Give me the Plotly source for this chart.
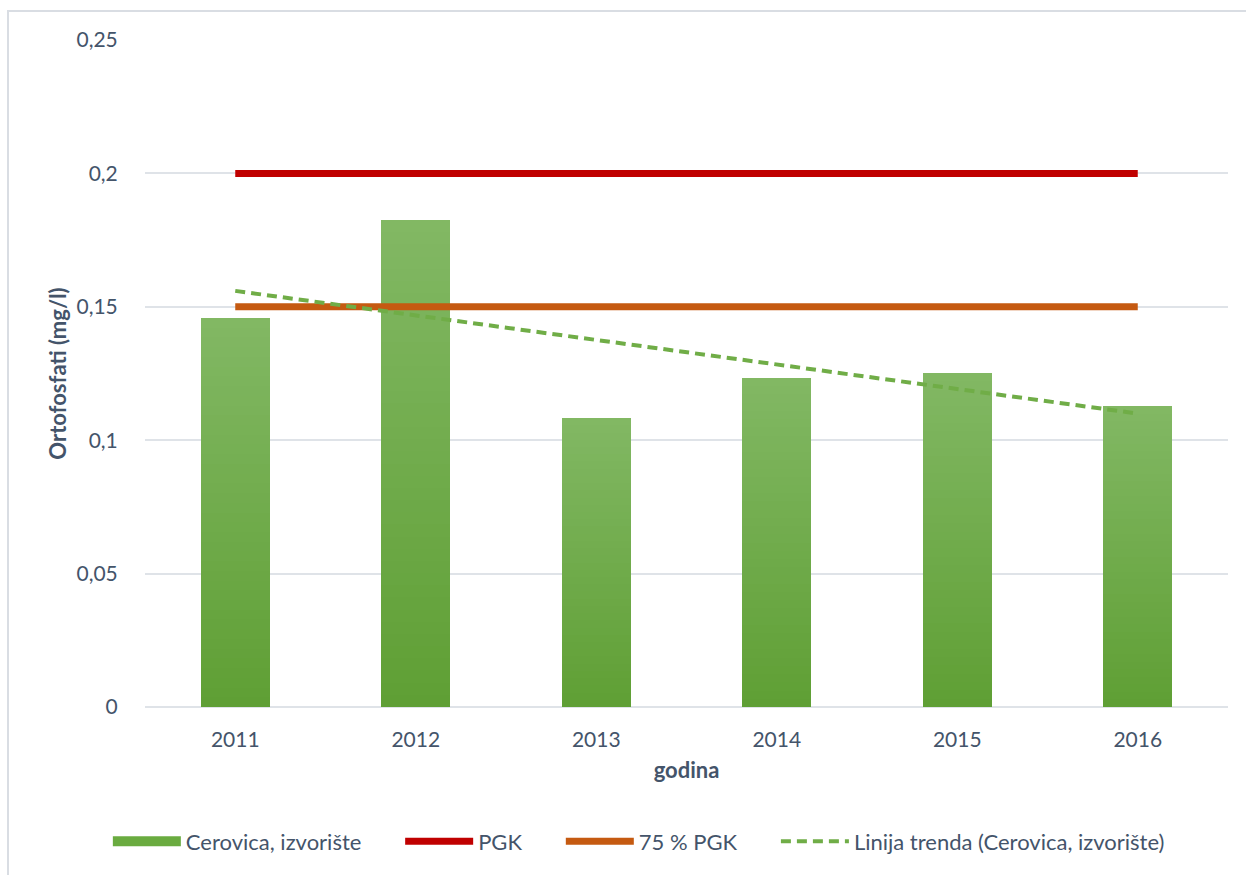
import numpy as np
import plotly.graph_objects as go

# Data
years = ["2011", "2012", "2013", "2014", "2015", "2016"]
cerovica = [0.1458, 0.1825, 0.1083, 0.1233, 0.1252, 0.1128]
pgk = [0.2] * len(years)
pgk75 = [0.15] * len(years)

series_name = "Cerovica, izvorište"
trend_name = "Linija trenda (Cerovica, izvorište)"

# Linear trend (least squares over category index)
idx = np.arange(1, len(years) + 1)
slope, intercept = np.polyfit(idx, cerovica, 1)
trend = slope * idx + intercept

FONT = "Lato"
TXT = "#44546a"
GRID = "#dfe3e8"
PAD = "\u00a0" * 6  # extra room between legend entries

# Vertical gradient of the bars, light at the top, dark at the bottom
TOP = np.array([0x82, 0xb8, 0x64])
BOT = np.array([0x5f, 0x9f, 0x34])
N_SEG = 40

fig = go.Figure()

# Legend entry for the bar series
fig.add_trace(go.Scatter(
    x=[None], y=[None], mode="lines", name=series_name + PAD,
    line=dict(color="#6aab40", width=14), legendgroup="bars",
))

vals = np.array(cerovica)
for k in range(N_SEG):
    t = (k + 0.5) / N_SEG  # 0 bottom .. 1 top
    c = BOT + (TOP - BOT) * t
    fig.add_trace(go.Bar(
        x=years, y=vals / N_SEG,
        marker=dict(color="rgb(%d,%d,%d)" % tuple(c.round().astype(int)), line=dict(width=0)),
        showlegend=False, legendgroup="bars", hoverinfo="skip",
    ))

fig.add_trace(go.Scatter(
    x=years, y=pgk, mode="lines", name="PGK" + PAD,
    line=dict(color="#c00000", width=7),
))
fig.add_trace(go.Scatter(
    x=years, y=pgk75, mode="lines", name="75 % PGK" + PAD,
    line=dict(color="#c55a11", width=7),
))
fig.add_trace(go.Scatter(
    x=years, y=trend, mode="lines", name=trend_name,
    line=dict(color="#70ad47", width=4, dash="10px,6px"),
))

fig.update_layout(
    width=1246, height=875,
    margin=dict(l=145, r=18, t=40, b=168),
    paper_bgcolor="white", plot_bgcolor="white",
    barmode="stack", bargap=0.62,
    separators=",.",
    font=dict(family=FONT, size=22, color=TXT),
    showlegend=True,
    legend=dict(
        orientation="h", x=0.456, xanchor="center", y=-0.17, yanchor="top",
        itemwidth=68, font=dict(family=FONT, size=22, color=TXT),
        traceorder="normal", itemclick=False,
    ),
    xaxis=dict(
        type="category", showgrid=False, showline=False, zeroline=False,
        ticks="outside", ticklen=14, tickcolor="rgba(0,0,0,0)",
        tickfont=dict(family=FONT, size=21, color=TXT),
        title=dict(text="<b>godina</b>", standoff=12,
                   font=dict(family=FONT, size=22, color=TXT)),
    ),
    yaxis=dict(
        range=[0, 0.25], dtick=0.05, showgrid=True, gridcolor=GRID, gridwidth=2,
        zeroline=True, zerolinecolor=GRID, zerolinewidth=2, showline=False,
        ticks="outside", ticklen=22, tickcolor="rgba(0,0,0,0)",
        tickfont=dict(family=FONT, size=21, color=TXT),
        title=dict(text="<b>Ortofosfati (mg/l)</b>", standoff=3,
                   font=dict(family=FONT, size=22, color=TXT)),
    ),
    shapes=[dict(
        type="rect", xref="paper", yref="paper",
        x0=-0.1265, x1=1.2, y0=-0.6, y1=1.0435,
        line=dict(color="#d9dde3", width=2), fillcolor="rgba(0,0,0,0)", layer="below",
    )],
)

fig.write_html("out.html")
